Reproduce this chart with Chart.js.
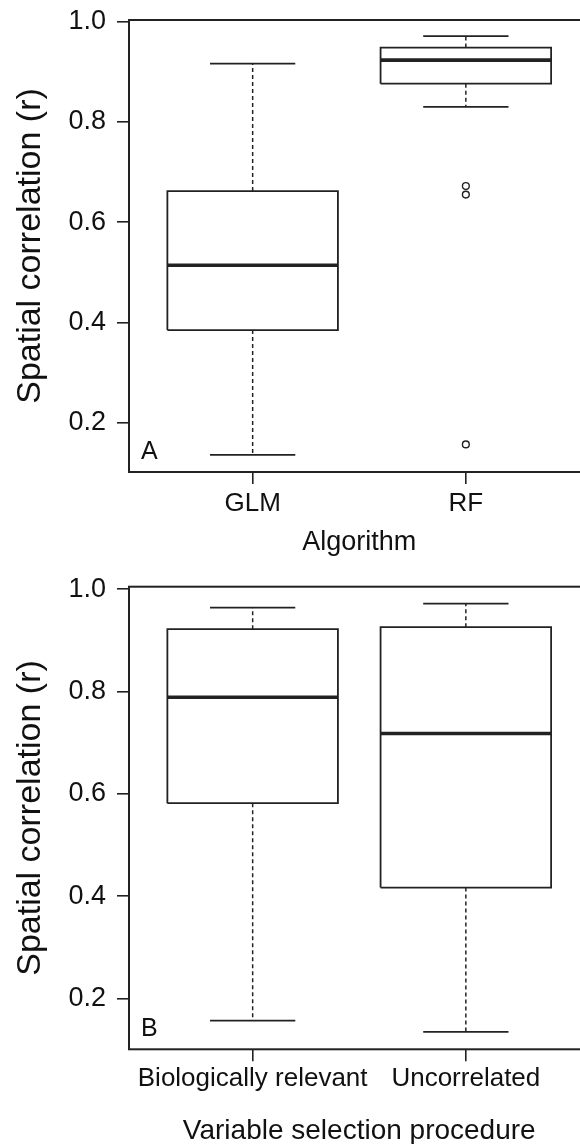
<!DOCTYPE html>
<html>
<head>
<meta charset="utf-8">
<script src="https://cdn.jsdelivr.net/npm/chart.js@4.4.1/dist/chart.umd.min.js"></script>
<style>
  html, body { margin: 0; padding: 0; background: #fff; overflow: hidden; width: 580px; height: 1144px; }
  canvas { display: block; }
</style>
</head>
<body>
<canvas id="chartA" width="600" height="572"></canvas>
<canvas id="chartB" width="600" height="572"></canvas>
<script>
// panel A: algorithm
const algoLabels = ["GLM", "RF"];
const algoMin = [0.136, 0.830];
const algoQ1 = [0.385, 0.876];
const algoMedian = [0.514, 0.923];
const algoQ3 = [0.662, 0.948];
const algoMax = [0.916, 0.971];
const algoOutliers = [[], [0.672, 0.655, 0.157]];

// panel B: variable selection procedure
const selLabels = ["Biologically relevant", "Uncorrelated"];
const selMin = [0.157, 0.135];
const selQ1 = [0.582, 0.417];
const selMedian = [0.789, 0.718];
const selQ3 = [0.922, 0.926];
const selMax = [0.964, 0.972];
const selOutliers = [[], []];

const yTicks = [0.2, 0.4, 0.6, 0.8, 1.0];

const ink = "#222";
const family = '"Liberation Sans", Arial, Helvetica, sans-serif';

function seg(points, width, dash) {
  return {
    data: points,
    showLine: true,
    borderColor: ink,
    borderWidth: width,
    borderDash: dash || [],
    borderCapStyle: "butt",
    borderJoinStyle: "miter",
    pointRadius: 0,
    fill: false,
    tension: 0,
  };
}

function boxDatasets(mins, q1s, meds, q3s, maxs, outs) {
  let sets = [];
  for (let i = 0; i < mins.length; i++) {
    let x = i + 1;
    sets.push(seg([
      { x: x - 0.4, y: q1s[i] }, { x: x + 0.4, y: q1s[i] },
      { x: x + 0.4, y: q3s[i] }, { x: x - 0.4, y: q3s[i] },
      { x: x - 0.4, y: q1s[i] },
    ], 1.8));
    sets.push(seg([{ x: x - 0.4, y: meds[i] }, { x: x + 0.4, y: meds[i] }], 3.6));
    sets.push(seg([{ x: x, y: q3s[i] }, { x: x, y: maxs[i] }], 1.5, [4, 3]));
    sets.push(seg([{ x: x, y: q1s[i] }, { x: x, y: mins[i] }], 1.5, [4, 3]));
    sets.push(seg([{ x: x - 0.2, y: maxs[i] }, { x: x + 0.2, y: maxs[i] }], 1.8));
    sets.push(seg([{ x: x - 0.2, y: mins[i] }, { x: x + 0.2, y: mins[i] }], 1.8));
  }
  let pts = [];
  outs.forEach((arr, i) => arr.forEach((v) => pts.push({ x: i + 1, y: v })));
  sets.push({
    data: pts,
    pointRadius: 3.4,
    pointBackgroundColor: "#fff",
    pointBorderColor: ink,
    pointBorderWidth: 1.4,
  });
  return sets;
}

// frame round the plot area and the panel letter
const frame = {
  id: "frame",
  afterDraw(chart, args, opts) {
    const { ctx, chartArea } = chart;
    ctx.save();
    ctx.strokeStyle = ink;
    ctx.lineWidth = 2;
    ctx.strokeRect(chartArea.left, chartArea.top, chartArea.right - chartArea.left, chartArea.bottom - chartArea.top);
    ctx.font = "25px " + family;
    ctx.fillStyle = "#111";
    ctx.textBaseline = "alphabetic";
    ctx.fillText(opts.letter, chartArea.left + 12, chartArea.bottom - 13);
    ctx.restore();
  },
};

function makeChart(id, cfg) {
  return new Chart(document.getElementById(id).getContext("2d"), {
    type: "scatter",
    data: { datasets: boxDatasets(cfg.mins, cfg.q1s, cfg.meds, cfg.q3s, cfg.maxs, cfg.outs) },
    plugins: [frame],
    options: {
      responsive: false,
      animation: false,
      layout: { padding: cfg.padding },
      plugins: {
        legend: { display: false },
        tooltip: { enabled: false },
        frame: { letter: cfg.letter },
      },
      scales: {
        x: {
          type: "linear",
          min: 0.42,
          max: 2.58,
          afterBuildTicks: (s) => { s.ticks = cfg.labels.map((l, i) => ({ value: i + 1 })); },
          afterFit: (s) => {
            s.height = cfg.xHeight;
            s.paddingLeft = 0;
            s.paddingRight = 0;
          },
          ticks: {
            callback: (v, i) => cfg.labels[i],
            font: { family: family, size: 26, lineHeight: 1 },
            color: "#111",
            padding: cfg.xPad,
            autoSkip: false,
            maxRotation: 0,
          },
          grid: { drawOnChartArea: false, drawTicks: true, tickLength: 12, color: ink, lineWidth: 1.6 },
          border: { display: false },
          title: {
            display: true,
            text: cfg.xTitle,
            font: { family: family, size: cfg.titleSize, lineHeight: cfg.titleLH },
            color: "#111",
            padding: 0,
          },
        },
        y: {
          min: cfg.yMin,
          max: cfg.yMax,
          afterBuildTicks: (s) => { s.ticks = yTicks.map((v) => ({ value: v })); },
          afterFit: (s) => {
            s.width = 129;
            s.paddingTop = 0;
            s.paddingBottom = 0;
          },
          ticks: {
            callback: (v) => v.toFixed(1),
            font: { family: family, size: 27 },
            color: "#111",
            padding: 11,
          },
          grid: { drawOnChartArea: false, drawTicks: true, tickLength: 12, color: ink, lineWidth: 1.6 },
          border: { display: false },
          title: {
            display: true,
            text: "Spatial correlation (r)",
            font: { family: family, size: 34, lineHeight: 1 },
            color: "#111",
            padding: { top: 13.5, bottom: 0 },
          },
        },
      },
    },
  });
}

makeChart("chartA", {
  labels: algoLabels, mins: algoMin, q1s: algoQ1, meds: algoMedian, q3s: algoQ3, maxs: algoMax, outs: algoOutliers,
  letter: "A", xTitle: "Algorithm", yMin: 0.102, yMax: 1.003,
  padding: { top: 20, right: 10.5, bottom: 15.8, left: 0 }, xHeight: 84.2, xPad: 6.7, titleLH: 1, titleSize: 27,
});

makeChart("chartB", {
  labels: selLabels, mins: selMin, q1s: selQ1, meds: selMedian, q3s: selQ3, maxs: selMax, outs: selOutliers,
  letter: "B", xTitle: "Variable selection procedure", yMin: 0.101, yMax: 1.005,
  padding: { top: 14.7, right: 10.5, bottom: 1.5, left: 0 }, xHeight: 93.2, xPad: 4.4, titleLH: 0.8, titleSize: 28,
});
</script>
</body>
</html>
